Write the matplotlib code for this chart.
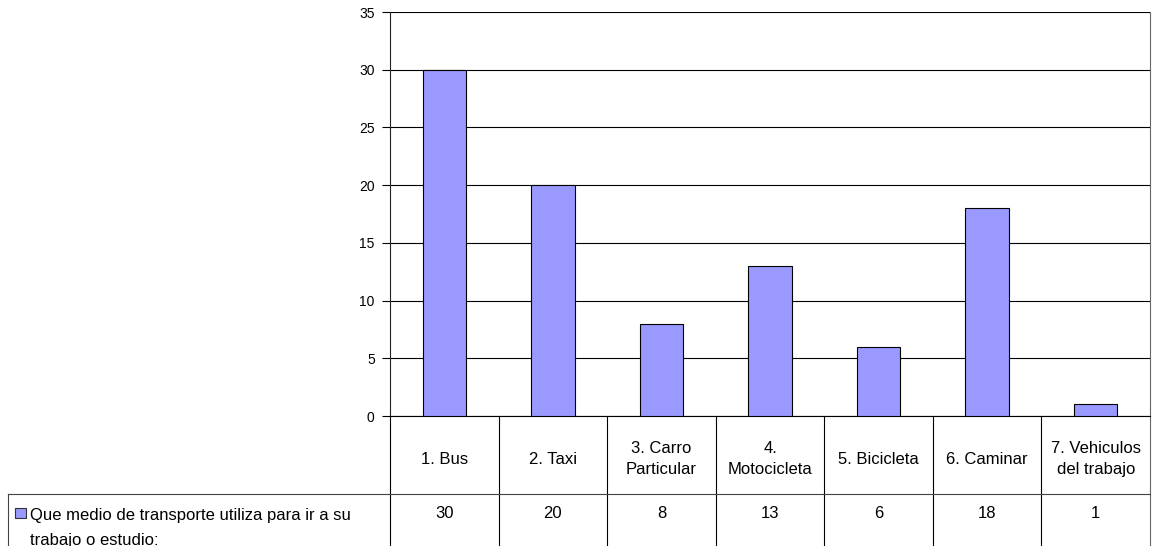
import textwrap
import matplotlib
matplotlib.use("Agg")
import matplotlib.pyplot as plt
from matplotlib.patches import Rectangle

plt.rcParams['font.family'] = ['Liberation Sans', 'DejaVu Sans']

# survey answers
categorias = ["1. Bus", "2. Taxi", "3. Carro\nParticular", "4.\nMotocicleta",
              "5. Bicicleta", "6. Caminar", "7. Vehiculos\ndel trabajo"]
valores = [30, 20, 8, 13, 6, 18, 1]
serie = "Que medio de transporte utiliza para ir a su trabajo o estudio:"
y_ticks = [0, 5, 10, 15, 20, 25, 30, 35]

color_barra = '#9999FF'

W, H = 1154, 546
fig = plt.figure(figsize=(W / 100, H / 100), dpi=100)
# plot area in pixels: left 390, right 1150, top 12, bottom 416
ax = fig.add_axes([390 / W, 1 - 416 / H, 760 / W, 404 / H])

xs = range(len(valores))
ax.bar(xs, valores, width=0.4, color=color_barra, edgecolor='black', linewidth=0.8, zorder=3)

ax.set_xlim(-0.5, len(valores) - 0.5)
ax.set_ylim(0, 35)
ax.set_yticks(y_ticks)
ax.set_yticklabels([str(t) for t in y_ticks], fontsize=10)
ax.set_xticks([])
ax.tick_params(axis='y', length=6, width=0.8, color='black', pad=5)
ax.yaxis.grid(True, color='black', linewidth=0.8, zorder=0)
ax.set_axisbelow(True)

ax.spines['top'].set_visible(False)
ax.spines['left'].set_color('#222222')
ax.spines['right'].set_color('#666666')
ax.spines['bottom'].set_color('black')
for s in ['left', 'right', 'bottom']:
    ax.spines[s].set_linewidth(0.8)

# data table under the chart (axes fractions)
px = 1 / 404.0
fila1 = -78 * px      # bottom of header row
fila2 = -130 * px     # figure bottom
tr = ax.get_xaxis_transform()

for k in range(len(valores) + 1):
    xk = k - 0.5
    col = '#666666' if k == len(valores) else 'black'
    ax.plot([xk, xk], [0, fila2], transform=tr, color=col, lw=0.8, clip_on=False)

# line between header row and values, running under the legend cell
ax.plot([(8 - 390) / 760, 1], [fila1, fila1], transform=ax.transAxes,
        color='#444444', lw=0.8, clip_on=False)
# left border of the legend cell
ax.plot([(8 - 390) / 760] * 2, [fila1, fila2], transform=ax.transAxes,
        color='#444444', lw=0.8, clip_on=False)

for i, (c, v) in enumerate(zip(categorias, valores)):
    ax.text(i, -(459 - 416) * px, c, transform=tr, ha='center', va='center',
            fontsize=12, linespacing=1.45)
    ax.text(i, -(513.5 - 416) * px, str(v), transform=tr, ha='center', va='center',
            fontsize=12)

# legend key and series name
ax.add_patch(Rectangle(((15 - 390) / 760, -(518 - 416) * px), 11 / 760, 10 * px,
                       transform=ax.transAxes, facecolor=color_barra,
                       edgecolor='#333333', lw=0.8, clip_on=False))
ax.text((30 - 390) / 760, -(508 - 416) * px, textwrap.fill(serie, 44),
        transform=ax.transAxes, ha='left', va='top', fontsize=12, linespacing=1.8)

fig.savefig("out.png", dpi=100)
